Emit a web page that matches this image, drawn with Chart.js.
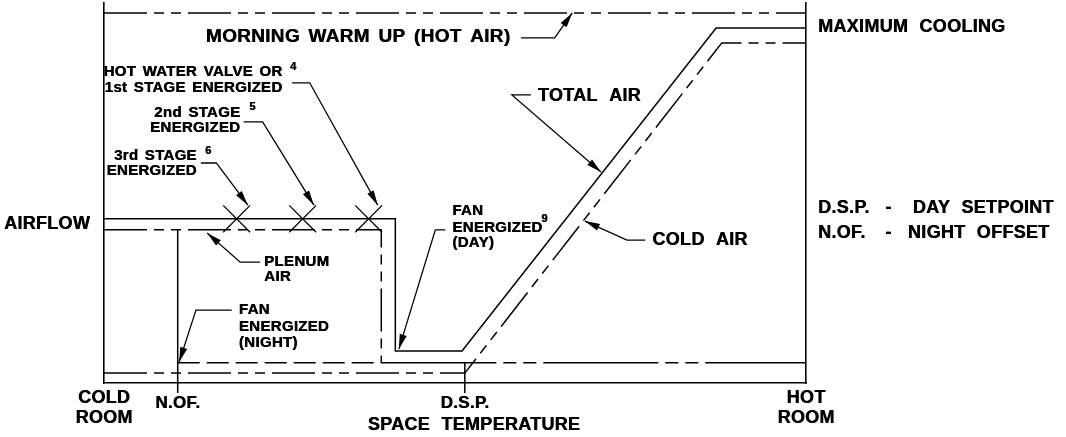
<!DOCTYPE html>
<html>
<head>
<meta charset="utf-8">
<script src="https://cdn.jsdelivr.net/npm/chart.js@4.4.1/dist/chart.umd.min.js"></script>
<style>
  html, body { margin:0; padding:0; background:#fff; }
  #wrap { width:1066px; height:437px; }
</style>
</head>
<body>
<div id="wrap"><canvas id="chart"></canvas></div>
<script>
// x = space temperature (0 cold room .. 100 hot room), y = airflow (0..100)
const warmUpX = [0, 100];
const warmUpY = [97.4, 97.4];
const totalAirX = [0, 41.5, 41.5, 51, 87.2, 100];
const totalAirY = [43.2, 43.2, 8.4, 8.4, 93.4, 93.4];
const coldAirX = [0, 51.4, 88, 100];
const coldAirY = [2.6, 2.6, 89.5, 89.5];
const plenumX = [0, 39.5, 39.5];
const plenumY = [40.3, 40.3, 5.3];
const nightLegX = [10.5, 10.5];
const nightLegY = [40.3, -2.6];
const nightLowX = [10.5, 39.5];
const nightHighX = [39.5, 100];
const nightFloorY = [5.3, 5.3];
const dspTickX = [51.4, 51.4];
const dspTickY = [5.3, -2.6];
const stageX = [18.9, 28.3, 37.7];   // 3rd, 2nd, 1st stage marks on total air
const stageY = [43.2, 43.2, 43.2];
const tickValues = [0, 10.5, 51.4, 100];
const tickLabels = [['COLD', 'ROOM'], ['N.OF.'], ['D.S.P.'], ['HOT', 'ROOM']];

const FONT = '"Liberation Sans", Arial, sans-serif';
const hidden = [43, 7, 10, 7, 10, 7];

const pts = (xs, ys) => xs.map((x, i) => ({x, y: ys[i]}));
const line = (xs, ys, dash, extra) => Object.assign({
  data: pts(xs, ys), showLine: true, borderColor: '#000', borderWidth: 1.5,
  borderDash: dash || [], pointRadius: 0, tension: 0, fill: false,
  borderJoinStyle: 'miter', borderCapStyle: 'butt'
}, extra || {});

// annotation text and leaders, all in data units
const notes = [
  {t: 'MORNING WARM UP (HOT AIR)', x: 14.5, y: 91.1, s: 19},
  {t: 'HOT WATER VALVE OR', x: 25.4, y: 81.8, s: 15, a: 'right'},
  {t: '1st STAGE ENERGIZED', x: 25.4, y: 77.6, s: 15, a: 'right'},
  {t: '4', x: 26.5, y: 83.2, s: 11},
  {t: '2nd STAGE', x: 19.4, y: 71.1, s: 15, a: 'right'},
  {t: 'ENERGIZED', x: 19.4, y: 67.1, s: 15, a: 'right'},
  {t: '5', x: 20.7, y: 72.6, s: 11},
  {t: '3rd STAGE', x: 13.2, y: 59.7, s: 15, a: 'right'},
  {t: 'ENERGIZED', x: 13.2, y: 55.8, s: 15, a: 'right'},
  {t: '6', x: 14.4, y: 61.1, s: 11},
  {t: 'FAN', x: 49.6, y: 45.3, s: 15},
  {t: 'ENERGIZED', x: 49.6, y: 40.8, s: 15},
  {t: '(DAY)', x: 49.6, y: 36.8, s: 15},
  {t: '9', x: 62.3, y: 43.2, s: 11},
  {t: 'PLENUM', x: 22.8, y: 31.8, s: 15},
  {t: 'AIR', x: 22.8, y: 27.9, s: 15},
  {t: 'FAN', x: 19.2, y: 19.2, s: 15},
  {t: 'ENERGIZED', x: 19.2, y: 14.7, s: 15},
  {t: '(NIGHT)', x: 19.2, y: 10.5, s: 15},
  {t: 'TOTAL AIR', x: 61.8, y: 75.5, s: 18},
  {t: 'COLD AIR', x: 78.1, y: 37.6, s: 18},
  {t: 'MAXIMUM COOLING', x: 101.7, y: 93.7, s: 18},
  {t: 'D.S.P.', x: 101.7, y: 46.1, s: 18},
  {t: '-', x: 111.3, y: 46.1, s: 18},
  {t: 'DAY SETPOINT', x: 115.2, y: 46.1, s: 18},
  {t: 'N.OF.', x: 101.7, y: 39.5, s: 18},
  {t: '-', x: 111.3, y: 39.5, s: 18},
  {t: 'NIGHT OFFSET', x: 114.5, y: 39.5, s: 18},
  {t: 'AIRFLOW', x: -2.0, y: 41.8, s: 18, a: 'right'},
  {t: 'SPACE TEMPERATURE', x: 52.7, y: -11.1, s: 18, a: 'center'}
];
const leaders = [
  [[59.4, 90.8], [64.2, 90.8], [66.7, 97.4]],
  [[26.8, 79.0], [29.3, 79.0], [39.0, 46.8]],
  [[19.9, 68.7], [22.6, 68.7], [29.9, 46.8]],
  [[13.8, 57.9], [16.0, 57.9], [20.5, 46.8]],
  [[48.6, 40.3], [47.2, 40.3], [42.0, 8.9]],
  [[22.2, 31.8], [19.4, 31.8], [14.7, 39.5]],
  [[18.2, 19.2], [13.1, 19.2], [10.7, 5.5]],
  [[60.8, 75.8], [58.1, 75.8], [70.8, 55.5]],
  [[77.1, 37.6], [74.5, 37.6], [68.5, 42.6]]
];

const drawing = {
  id: 'drawing',
  afterDatasetsDraw(chart) {
    const {ctx, scales: {x, y}} = chart;
    const X = v => x.getPixelForValue(v), Y = v => y.getPixelForValue(v);
    ctx.save();
    ctx.fillStyle = '#000';
    ctx.strokeStyle = '#000';
    ctx.textBaseline = 'middle';
    const text = (t, px, py, size, align) => {
      ctx.font = 'bold ' + size + 'px ' + FONT;
      ctx.textAlign = align || 'left';
      if ('letterSpacing' in ctx) ctx.letterSpacing = size > 12 ? '0.3px' : '0px';
      if ('wordSpacing' in ctx) ctx.wordSpacing = size >= 19 ? '3px' : size >= 18 ? '6px' : '2px';
      ctx.fillText(t, px, py);
      // second pass, nudged, to thicken strokes like the plotter font
      ctx.fillText(t, px + 0.5, py);
    };
    notes.forEach(n => text(n.t, X(n.x), Y(n.y), n.s, n.a));
    // tick labels under the temperature axis
    tickValues.forEach((v, i) => {
      const two = tickLabels[i].length > 1;
      tickLabels[i].forEach((l, j) => text(l, X(v), Y(0) + (two ? 15 + j * 20 : 20), two ? 18 : 17, 'center'));
    });
    // leaders with arrowheads
    ctx.lineWidth = 1.3;
    leaders.forEach(p => {
      const q = p.map(([a, b]) => [X(a), Y(b)]);
      ctx.beginPath();
      q.forEach(([a, b], i) => i ? ctx.lineTo(a, b) : ctx.moveTo(a, b));
      ctx.stroke();
      const [x0, y0] = q[q.length - 2], [x1, y1] = q[q.length - 1];
      const ang = Math.atan2(y1 - y0, x1 - x0), L = 15, W = 3.6;
      ctx.beginPath();
      ctx.moveTo(x1, y1);
      ctx.lineTo(x1 - L * Math.cos(ang) + W * Math.sin(ang), y1 - L * Math.sin(ang) - W * Math.cos(ang));
      ctx.lineTo(x1 - L * Math.cos(ang) - W * Math.sin(ang), y1 - L * Math.sin(ang) + W * Math.cos(ang));
      ctx.closePath();
      ctx.fill();
    });
    ctx.restore();
  }
};

const axisOpts = (pos) => ({
  type: 'linear', position: pos, min: 0, max: 100,
  grid: {display: false, drawTicks: false, tickLength: 0}, ticks: {display: false},
  border: {display: true, color: '#000', width: 1.6}
});

new Chart(document.getElementById('chart'), {
  type: 'scatter',
  data: {
    datasets: [
      line(warmUpX, warmUpY, hidden),
      line(totalAirX, totalAirY),
      line(coldAirX, coldAirY, hidden),
      line(plenumX, plenumY, hidden),
      line(nightLegX, nightLegY, [], {clip: false}),
      line(nightLowX, nightFloorY, [22, 7]),
      line(nightHighX, nightFloorY, [115, 7, 13, 7, 13, 7]),
      line(dspTickX, dspTickY, [], {clip: false}),
      {data: pts(stageX, stageY), showLine: false, pointStyle: 'crossRot', pointRadius: 19,
       pointBorderColor: '#000', pointBorderWidth: 1.3, pointHoverRadius: 19}
    ]
  },
  plugins: [drawing],
  options: {
    responsive: true, maintainAspectRatio: false, animation: false,
    layout: {autoPadding: false, padding: {left: 104, right: 260, top: 3, bottom: 54}},
    plugins: {legend: {display: false}, tooltip: {enabled: false}},
    scales: {x: axisOpts('bottom'), y: axisOpts('left'), y2: axisOpts('right')}
  }
});
</script>
</body>
</html>
